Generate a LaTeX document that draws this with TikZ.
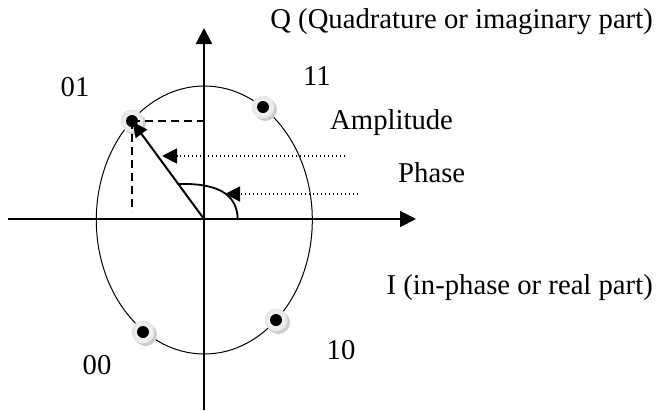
\documentclass[tikz,border=0pt]{standalone}
\usepackage{fontspec}
\setmainfont{Liberation Serif}
\usetikzlibrary{arrows.meta, calc}

\begin{document}
\begin{tikzpicture}[x=1pt, y=-1pt, every node/.style={font=\fontsize{28.7}{33}\selectfont, inner sep=0pt},
    axis/.style={line width=2pt, -{Triangle[length=16pt, width=16pt]}},
    vec/.style={line width=2pt, -{Triangle[length=15pt, width=14pt]}},
    proj/.style={line width=2pt, dash pattern=on 8pt off 5pt},
    pointer/.style={line width=1.5pt, dash pattern=on 1.5pt off 2.5pt, -{Triangle[length=15pt, width=15pt]}}]
  \useasboundingbox (0,0) rectangle (659,410);
  % axes
  \coordinate (O) at (204,219);
  \coordinate (ybot) at (204,410);
  \coordinate (ytop) at (204,28);
  \coordinate (xleft) at (8,219);
  \coordinate (xright) at (416,219);
  \draw[axis] (ybot) -- (ytop);
  \draw[axis] (xleft) -- (xright);
  \draw[line width=1pt] (204.3,220) ellipse [x radius=108pt, y radius=134pt];
  % constellation points
  \coordinate (p01) at (132,121);
  \coordinate (p11) at (263,107);
  \coordinate (p00) at (143,332);
  \coordinate (p10) at (276,320);
  \foreach \p in {p01,p11,p00,p10} {%
    \fill[gray!40] ($(\p)+(2.5,2.5)$) circle (11.5pt);
    \shade[inner color=white, outer color=gray!20] (\p) circle (11.5pt);
    \fill (\p) circle (6pt);}
  % projections and vector
  \coordinate (pfoot) at (132,212);
  \draw[proj] (p01) -- (p01 -| O);
  \draw[proj] (p01) -- (pfoot);
  \draw[vec, shorten >=1pt] (O) -- (p01);
  \draw[line width=1.8pt] (237.7,219) .. controls (237,193) and (216,183) .. (178,184);
  % pointers
  \coordinate (ampfrom) at (345,156);
  \coordinate (ampto) at (162,156);
  \coordinate (phfrom) at (358,194);
  \coordinate (phto) at (225,194);
  \draw[pointer] (ampfrom) -- (ampto);
  \draw[pointer] (phfrom) -- (phto);
  % labels
  \node[anchor=base east] (qlab) at (653,28) {Q (Quadrature or imaginary part)};
  \node[anchor=base east] (ilab) at (653,294) {I (in-phase or real part)};
  \node[anchor=base west] (amp) at (330,129) {Amplitude};
  \node[anchor=base west] (phase) at (398,182) {Phase};
  \node (l01) at (75,87) {01};
  \node (l11) at (317,76) {11};
  \node (l00) at (97,365) {00};
  \node (l10) at (341,350) {10};
\end{tikzpicture}
\end{document}
